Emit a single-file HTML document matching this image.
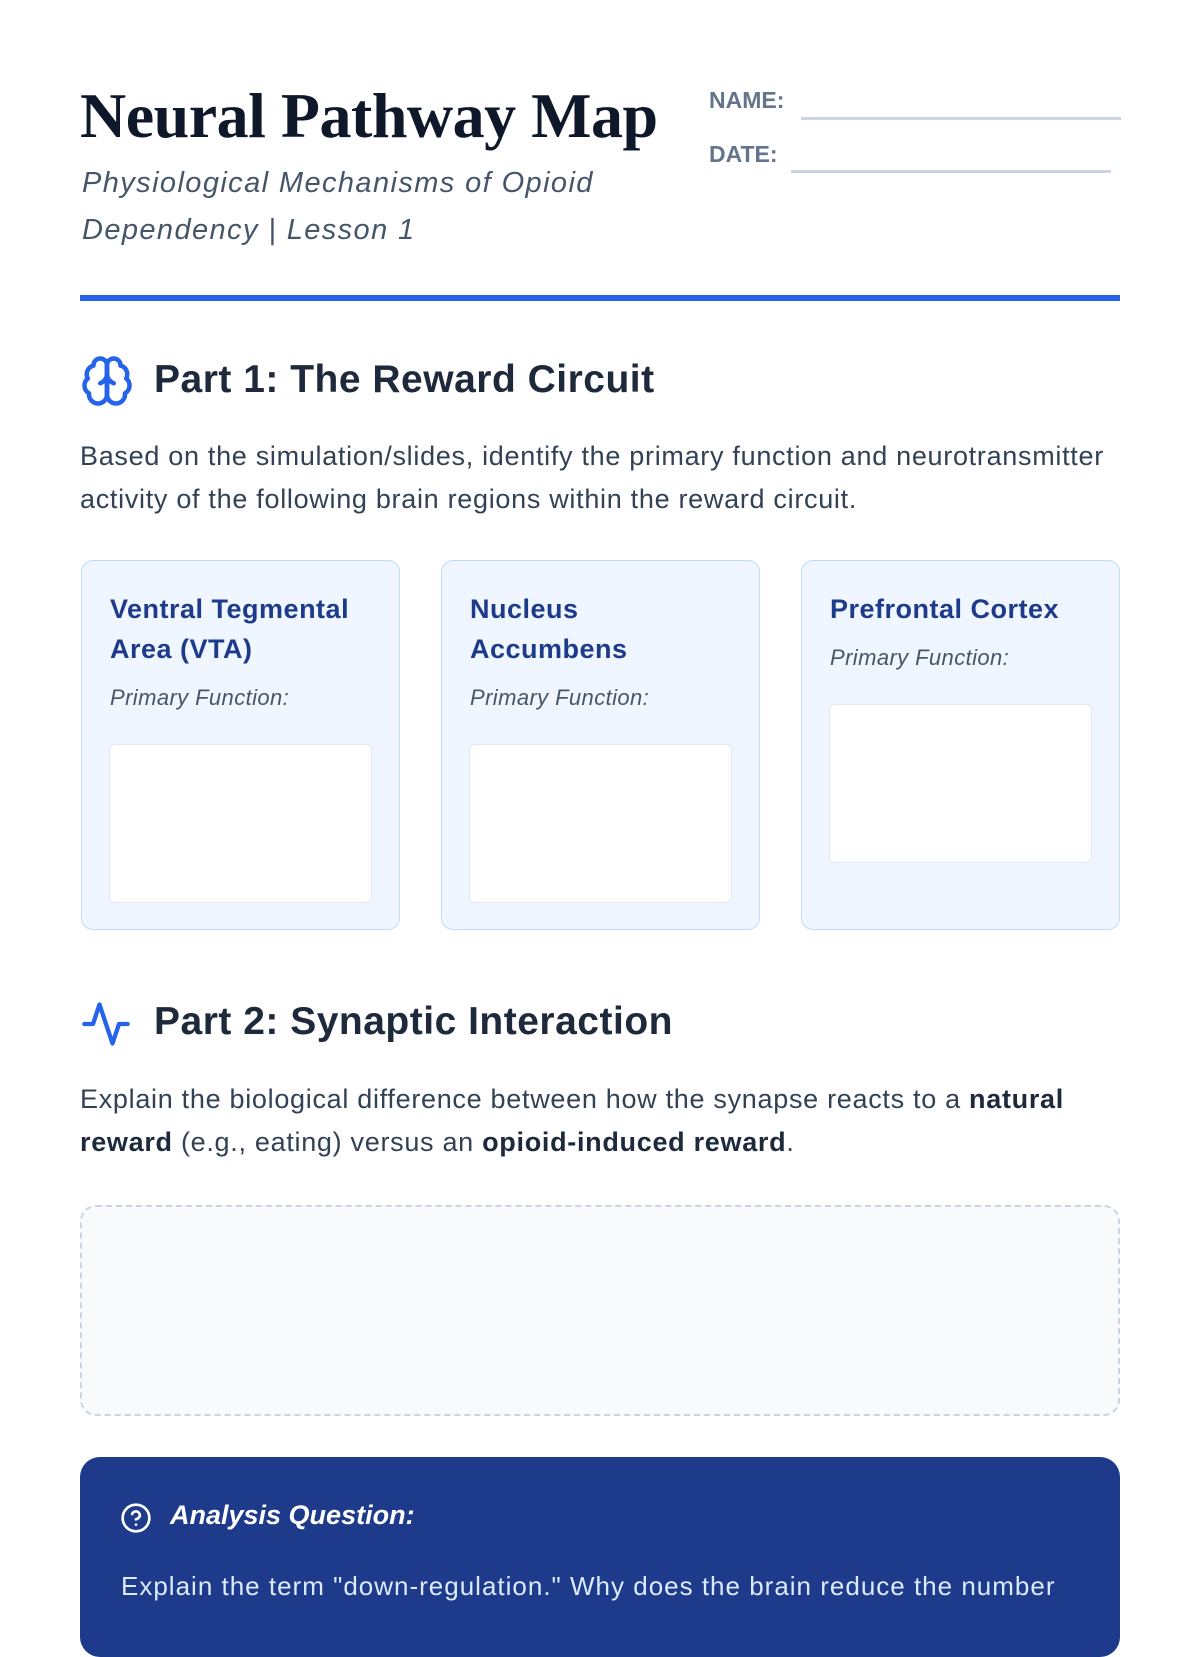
<!DOCTYPE html>
<html><head><meta charset="utf-8"><style>
*{margin:0;padding:0;box-sizing:border-box}
body{width:1200px;height:1600px;overflow:hidden;background:#fff;font-family:"Liberation Sans",sans-serif;position:relative;color:#334155}
.a{position:absolute}
h1{position:absolute;left:80px;top:80px;font-family:"Liberation Serif",serif;font-weight:bold;font-size:64px;color:#0f172a;letter-spacing:-0.5px;line-height:72px;white-space:nowrap}
.sub{left:82px;top:160px;width:600px;font-style:italic;font-size:29px;line-height:47px;color:#475569;letter-spacing:1.4px}
.lbl{font-weight:bold;font-size:23px;color:#64748b}
.ln{height:3px;background:#cbd5e1}
h2{position:absolute;left:154px;font-size:39px;font-weight:bold;color:#1e293b;letter-spacing:0.5px}
.p{left:80px;width:1080px;font-size:27px;line-height:43px;color:#334155;letter-spacing:0.7px;white-space:nowrap}
.card{position:absolute;top:560px;width:319px;height:370px;background:#eff6ff;border:1.5px solid #bfdbfe;border-radius:12px}
.card .t{position:absolute;left:28px;top:28px;font-size:27px;line-height:40px;font-weight:bold;color:#1e3a8a;width:290px;letter-spacing:0.5px;white-space:nowrap}
.card .f{position:absolute;left:28px;font-style:italic;font-size:22px;color:#475569;letter-spacing:0.4px}
.card .b{position:absolute;left:27px;width:263px;height:159px;background:#fff;border:1px solid #e2e8f0;border-radius:6px}
</style></head><body>
<h1>Neural Pathway Map</h1>
<div class="a sub">Physiological Mechanisms of Opioid<br>Dependency | Lesson 1</div>
<div class="a lbl" style="left:709px;top:87px">NAME:</div>
<div class="a ln" style="left:801px;top:117px;width:320px"></div>
<div class="a lbl" style="left:709px;top:141px">DATE:</div>
<div class="a ln" style="left:791px;top:170px;width:320px"></div>
<div class="a" style="left:80px;top:295px;width:1040px;height:6px;background:#2563eb"></div>

<svg class="a" style="left:80px;top:354px" width="54" height="54" viewBox="0 0 24 24" fill="none" stroke="#2563eb" stroke-width="2" stroke-linecap="round" stroke-linejoin="round"><path d="M12 5a3 3 0 1 0-5.997.125 4 4 0 0 0-2.526 5.77 4 4 0 0 0 .556 6.588A4 4 0 1 0 12 18Z"/><path d="M12 5a3 3 0 1 1 5.997.125 4 4 0 0 1 2.526 5.77 4 4 0 0 1-.556 6.588A4 4 0 1 1 12 18Z"/><path d="M12 5v13"/><path d="M9 13a4.5 4.5 0 0 0 3-4"/><path d="M15 13a4.5 4.5 0 0 1-3-4"/></svg>
<h2 style="top:358px">Part 1: The Reward Circuit</h2>
<div class="a p" style="top:435px">Based on the simulation/slides, identify the primary function and neurotransmitter<br>activity of the following brain regions within the reward circuit.</div>

<div class="card" style="left:81px"><div class="t">Ventral Tegmental<br>Area (VTA)</div><div class="f" style="top:124px">Primary Function:</div><div class="b" style="top:183px"></div></div>
<div class="card" style="left:441px"><div class="t">Nucleus<br>Accumbens</div><div class="f" style="top:124px">Primary Function:</div><div class="b" style="top:183px"></div></div>
<div class="card" style="left:801px"><div class="t">Prefrontal Cortex</div><div class="f" style="top:84px">Primary Function:</div><div class="b" style="top:143px"></div></div>

<svg class="a" style="left:80px;top:998px" width="52" height="52" viewBox="0 0 24 24" fill="none" stroke="#2563eb" stroke-width="2" stroke-linecap="round" stroke-linejoin="round"><path d="M22 12h-4l-3 9L9 3l-3 9H2"/></svg>
<h2 style="top:1000px">Part 2: Synaptic Interaction</h2>
<div class="a p" style="top:1078px">Explain the biological difference between how the synapse reacts to a <b style="color:#1e293b">natural</b><br><b style="color:#1e293b">reward</b> (e.g., eating) versus an <b style="color:#1e293b">opioid-induced reward</b>.</div>
<div class="a" style="left:80px;top:1205px;width:1040px;height:211px;background:#f8fafc;border:2px dashed #cbd5e1;border-radius:16px"></div>

<div class="a" style="left:80px;top:1457px;width:1040px;height:200px;background:#1e3a8a;border-radius:20px"></div>
<svg class="a" style="left:120px;top:1502px" width="32" height="32" viewBox="0 0 24 24" fill="none" stroke="#fff" stroke-width="2" stroke-linecap="round"><circle cx="12" cy="12" r="10"/><path d="M9.1 9a3 3 0 0 1 5.8 1c0 2-3 3-3 3"/><path d="M12 17h.01"/></svg>
<div class="a" style="left:170px;top:1500px;font-size:27px;font-weight:bold;font-style:italic;color:#fff">Analysis Question:</div>
<div class="a" style="left:121px;top:1571px;font-size:26px;color:#dbeafe;white-space:nowrap;letter-spacing:1px">Explain the term "down-regulation." Why does the brain reduce the number</div>
</body></html>
